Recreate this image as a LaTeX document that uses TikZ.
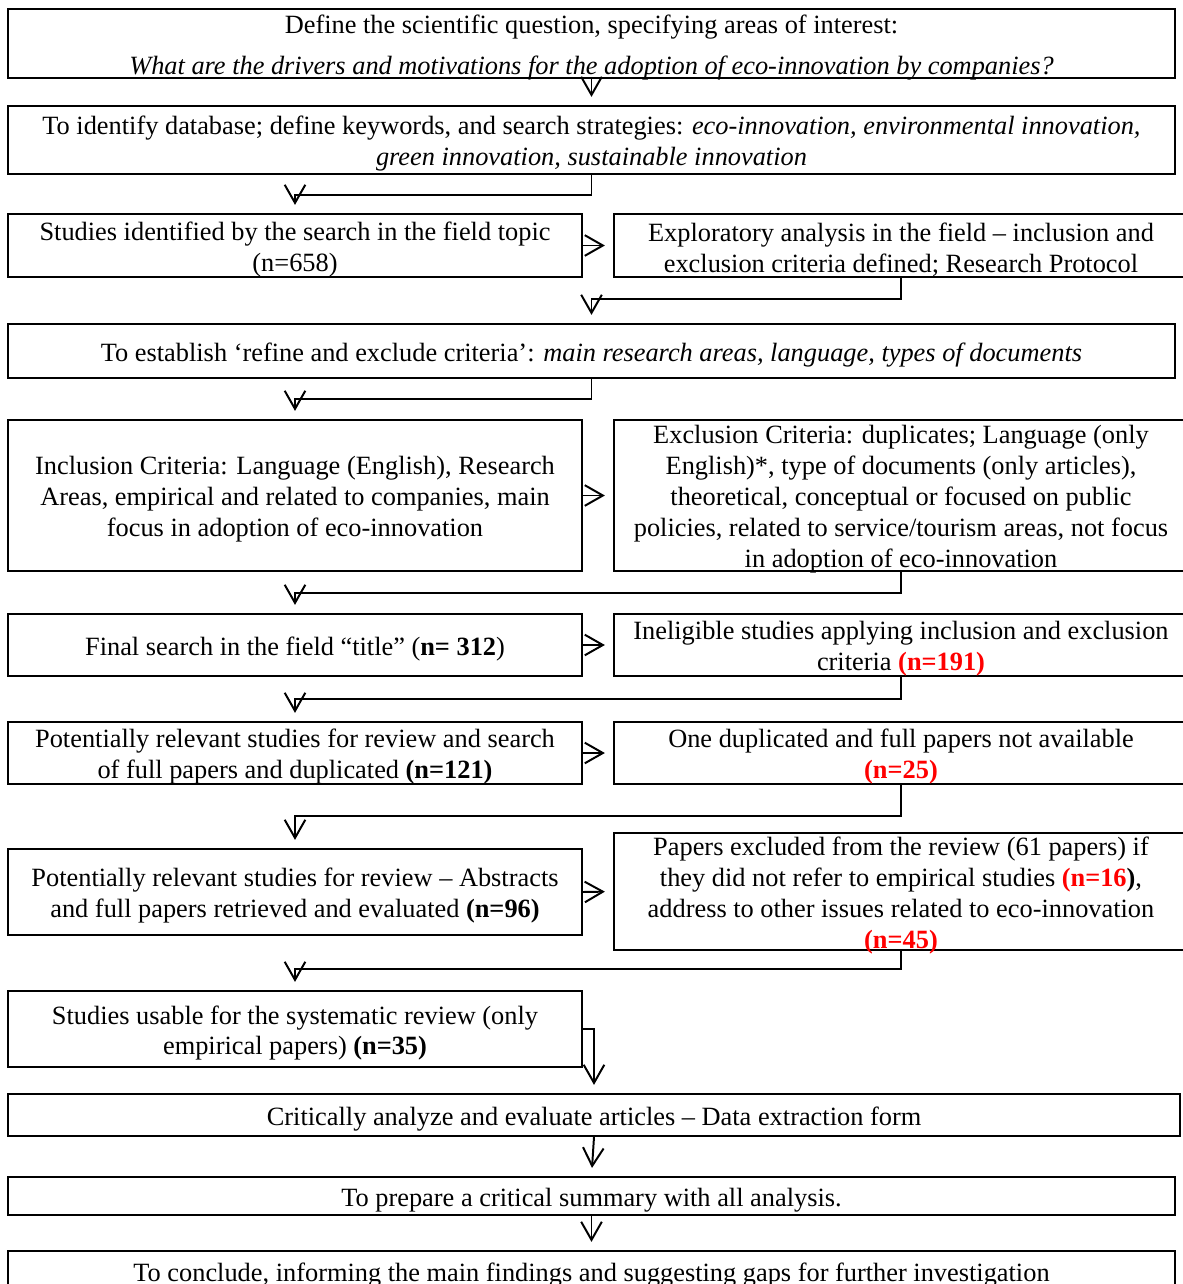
\documentclass[tikz,border=0pt]{standalone}
\usepackage{fontspec}
\setmainfont{Liberation Serif}
\usepackage{tikz}
\usetikzlibrary{arrows.meta}

\newcommand{\redcount}[1]{\textcolor{red}{\textbf{#1}}}

\begin{document}
\begin{tikzpicture}[
  box/.style={rectangle, draw, line width=.9pt, inner sep=0pt},
  wide/.style={box, minimum width=18.672cm},
  half/.style={box, minimum width=9.184cm},
  txt/.style={align=center, inner sep=0pt, font=\fontsize{12}{14.1}\selectfont, yshift=-.064cm},
  flow/.style={-{Straight Barb[length=2.9mm,width=3.3mm]}, line width=.9pt, shorten >=1.3mm}]

\useasboundingbox (0,0) rectangle (18.912cm,-20.544cm);

%-----------------------------------------------------
\node (question) at(9.464cm,-.696cm) [wide, minimum height=1.104cm, label={[txt]center:Define the scientific question, specifying areas of interest:\\[.16cm]\textit{What are the drivers and motivations for the adoption of eco-innovation by companies?}}] {};

\node (keywords) at(9.464cm,-2.24cm) [wide, minimum height=1.088cm, label={[txt]center:To identify database; define keywords, and search strategies: \textit{eco-innovation, environmental innovation,}\\\textit{green innovation, sustainable innovation}}] {};

\node (identified) at(4.72cm,-3.928cm) [half, minimum height=1.008cm, label={[txt]center:Studies identified by the search in the field topic\\(n=658)}] {};
\node (exploratory) at(14.416cm,-3.928cm) [half, minimum height=1.008cm, label={[txt]center:Exploratory analysis in the field – inclusion and\\exclusion criteria defined; Research Protocol}] {};

\node (refine) at(9.464cm,-5.616cm) [wide, minimum height=.864cm, label={[txt]center:To establish ‘refine and exclude criteria’: \textit{main research areas, language, types of documents}}] {};

%-----------------------------------------------------
\node (inclusion) at(4.72cm,-7.928cm) [half, minimum height=2.416cm, label={[txt]center:Inclusion Criteria: Language (English), Research\\Areas, empirical and related to companies, main\\focus in adoption of eco-innovation}] {};
\node (exclusion) at(14.416cm,-7.928cm) [half, minimum height=2.416cm, label={[txt]center:Exclusion Criteria: duplicates; Language (only\\English)*, type of documents (only articles),\\theoretical, conceptual or focused on public\\policies, related to service/tourism areas, not focus\\in adoption of eco-innovation}] {};

\node (title) at(4.72cm,-10.32cm) [half, minimum height=.992cm, label={[txt]center:Final search in the field “title” (\textbf{n= 312})}] {};
\node (ineligible) at(14.416cm,-10.32cm) [half, minimum height=.992cm, label={[txt]center:Ineligible studies applying inclusion and exclusion\\criteria \redcount{(n=191)}}] {};

\node (relevant) at(4.72cm,-12.048cm) [half, minimum height=.992cm, label={[txt]center:Potentially relevant studies for review and search\\of full papers and duplicated \textbf{(n=121)}}] {};
\node (unavailable) at(14.416cm,-12.048cm) [half, minimum height=.992cm, label={[txt]center:One duplicated and full papers not available\\\redcount{(n=25)}}] {};

\node (abstracts) at(4.72cm,-14.272cm) [half, minimum height=1.376cm, label={[txt]center:Potentially relevant studies for review – Abstracts\\and full papers retrieved and evaluated \textbf{(n=96)}}] {};
\node (excluded) at(14.416cm,-14.264cm) [half, minimum height=1.872cm, label={[txt]center:Papers excluded from the review (61 papers) if\\they did not refer to empirical studies \redcount{(n=16}\textbf{)},\\address to other issues related to eco-innovation\\\redcount{(n=45)}}] {};

\node (usable) at(4.72cm,-16.464cm) [half, minimum height=1.216cm, label={[txt]center:Studies usable for the systematic review (only\\empirical papers) \textbf{(n=35)}}] {};

%-----------------------------------------------------
\node (analyze) at(9.504cm,-17.84cm) [box, minimum width=18.752cm, minimum height=.672cm, label={[txt]center:Critically analyze and evaluate articles – Data extraction form}] {};
\node (summary) at(9.464cm,-19.136cm) [wide, minimum height=.608cm, label={[txt]center:To prepare a critical summary with all analysis.}] {};
\node (conclude) at(9.464cm,-20.336cm) [wide, minimum height=.64cm, label={[txt]center:To conclude, informing the main findings and suggesting gaps for further investigation}] {};

%-----------------------------------------------------
\draw [flow] (question.south) -- (keywords.north);
\draw [flow] (keywords.south) -- ++(0,-.32cm) -| (identified.north);
\draw [flow] (identified.east) -- (exploratory.west);
\draw [flow] (exploratory.south) -- ++(0,-.34cm) -| (refine.north);
\draw [flow] (refine.south) -- ++(0,-.32cm) -| (inclusion.north);
\draw [flow] (inclusion.east) -- (exclusion.west);
\draw [flow] (exclusion.south) -- ++(0,-.34cm) -| (title.north);
\draw [flow] (title.east) -- (ineligible.west);
\draw [flow] (ineligible.south) -- ++(0,-.35cm) -| (relevant.north);
\draw [flow] (relevant.east) -- (unavailable.west);
\draw [flow] (unavailable.south) -- ++(0,-.5cm) -| (abstracts.north);
\draw [flow] (abstracts.east) -- (excluded.west);
\draw [flow] (excluded.south) -- ++(0,-.29cm) -| (usable.north);
\draw [flow] (usable.east) -| (analyze.north);
\draw [flow] (analyze.south) -- (summary.north);
\draw [flow] (summary.south) -- (conclude.north);

\end{tikzpicture}
\end{document}
